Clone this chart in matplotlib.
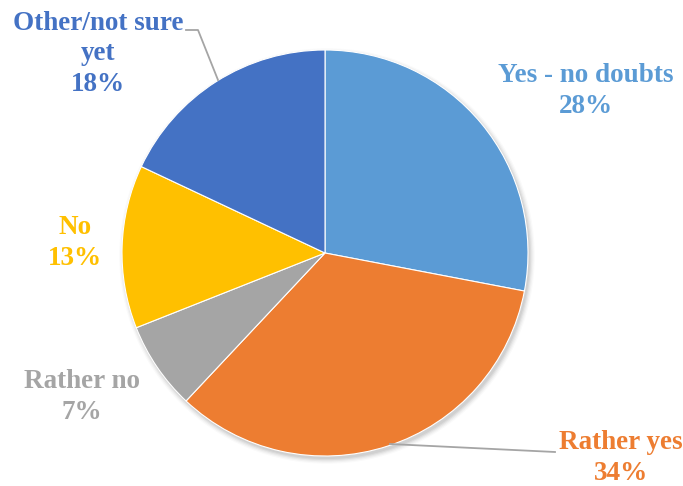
import matplotlib
matplotlib.use("Agg")
import matplotlib.pyplot as plt
from matplotlib.patches import Circle

categories = ["Yes - no doubts", "Rather yes", "Rather no", "No", "Other/not sure\nyet"]
shares = [28, 34, 7, 13, 18]
colors = ["#5B9BD5", "#ED7D31", "#A5A5A5", "#FFC000", "#4472C4"]

W, H = 683, 486
fig = plt.figure(figsize=(W / 100, H / 100), dpi=100)
ax = fig.add_axes([0, 0, 1, 1])

cx, cy, r = 325, H - 253, 203

# soft drop shadow under the pie
for i, a in enumerate([0.05, 0.05, 0.04, 0.03, 0.02]):
    ax.add_patch(Circle((cx + 2, cy - 3), r + i * 1.2, color="black", alpha=a, lw=0, zorder=0))

ax.pie(shares, colors=colors, startangle=90, counterclock=False,
       center=(cx, cy), radius=r, frame=True,
       wedgeprops=dict(edgecolor="white", linewidth=0.8))
ax.set_xlim(0, W)
ax.set_ylim(0, H)
ax.set_aspect("equal")
ax.axis("off")

font = dict(family="Liberation Serif", fontweight="bold", fontsize=19.5,
            ha="center", va="center", linespacing=1.3)

label_pos = [(586, 91), (621, 458), (82, 397), (75, 243), (98, 54)]
for name, val, col, (x, y) in zip(categories, shares, colors, label_pos):
    ax.text(x, H - y, f"{name}\n{val}%", color=col, **font)

# leader lines
ax.plot([186, 198, 218], [H - 30, H - 30, H - 80], color="#A5A5A5", lw=1.3, zorder=5)
ax.plot([390, 555], [H - 444, H - 452], color="#A5A5A5", lw=1.3, zorder=5)

fig.savefig("out.png", dpi=100)
